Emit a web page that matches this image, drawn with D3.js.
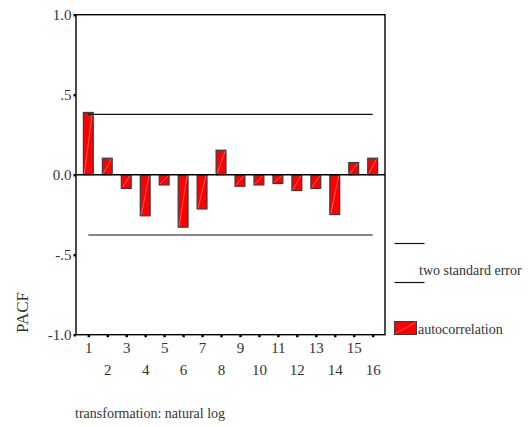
<!DOCTYPE html>
<html>
<head>
<meta charset="utf-8">
<script src="https://cdn.jsdelivr.net/npm/d3@7"></script>
<style>
  html, body { margin: 0; padding: 0; background: #fff; }
  svg { display: block; }
</style>
</head>
<body>
<svg id="chart" width="530" height="427"></svg>
<script>
// Partial autocorrelation by lag
const lags = [1, 2, 3, 4, 5, 6, 7, 8, 9, 10, 11, 12, 13, 14, 15, 16];
const pacf = [0.389, 0.103, -0.086, -0.257, -0.064, -0.328, -0.214, 0.153,
              -0.072, -0.064, -0.055, -0.099, -0.086, -0.249, 0.076, 0.103];
const confLimit = [0.377, -0.377];
const yTickValues = [1.0, 0.5, 0.0, -0.5, -1.0];
const yTickLabels = ["1.0", ".5", "0.0", "-.5", "-1.0"];
const legendLabels = ["two standard error", "autocorrelation"];
const yTitle = "PACF";
const footnote = "transformation: natural log";

const FONT = "'Times New Roman', 'Liberation Serif', 'DejaVu Serif', 'Noto Serif', serif";
const INK = "#333";

const svg = d3.select("#chart")
  .attr("font-family", FONT);

const plot = { left: 76, right: 385, top: 14.7, bottom: 334.7 };

const x = d3.scaleLinear().domain([0.35, 16.65]).range([plot.left, plot.right]);
const y = d3.scaleLinear().domain([-1, 1]).range([plot.bottom, plot.top]);
const step = x(2) - x(1);
const barW = step * 0.52;

// frame
svg.append("rect")
  .attr("x", plot.left).attr("y", plot.top)
  .attr("width", plot.right - plot.left).attr("height", plot.bottom - plot.top)
  .attr("fill", "none").attr("stroke", "#000").attr("stroke-width", 1.4);

// bars
const bars = svg.append("g").selectAll("g").data(lags).join("g");
bars.append("rect")
  .attr("x", (d) => x(d) - barW / 2)
  .attr("y", (d, i) => y(Math.max(0, pacf[i])))
  .attr("width", barW)
  .attr("height", (d, i) => Math.abs(y(pacf[i]) - y(0)))
  .attr("fill", "#ff0000")
  .attr("stroke", "#3a3a3a")
  .attr("stroke-width", 1.2);
// faint diagonal hatch inside each bar
bars.append("line")
  .attr("x1", (d) => x(d) - barW / 2 + 1)
  .attr("x2", (d) => x(d) + barW / 2 - 1)
  .attr("y1", (d, i) => y(Math.min(0, pacf[i])) - 1)
  .attr("y2", (d, i) => y(Math.max(0, pacf[i])) + 1)
  .attr("stroke", "#ff9a9a").attr("stroke-width", 0.6);

// zero line
svg.append("line")
  .attr("x1", plot.left).attr("x2", plot.right)
  .attr("y1", y(0)).attr("y2", y(0))
  .attr("stroke", "#000").attr("stroke-width", 1.4);

// two standard error limits
svg.append("g").selectAll("line").data(confLimit).join("line")
  .attr("x1", x(lags[0])).attr("x2", x(lags[lags.length - 1]))
  .attr("y1", (d) => y(d)).attr("y2", (d) => y(d))
  .attr("stroke", "#111").attr("stroke-width", 1.2);

// y axis
const yAxis = d3.axisLeft(y)
  .tickValues(yTickValues)
  .tickSize(2.5)
  .tickPadding(2)
  .tickFormat((d, i) => yTickLabels[i]);
const gy = svg.append("g").attr("transform", `translate(${plot.left},0)`).call(yAxis)
  .attr("font-family", FONT).attr("font-size", 15);
gy.select(".domain").remove();
gy.selectAll(".tick line").attr("stroke", "#000").attr("stroke-width", 2.5);
gy.selectAll(".tick text").attr("fill", INK);

// x axis: odd lags on first row, even lags on second row
const xAxis = d3.axisBottom(x)
  .tickValues(lags)
  .tickSize(2.5)
  .tickPadding(6)
  .tickFormat(d3.format("d"));
const gx = svg.append("g").attr("transform", `translate(0,${plot.bottom})`).call(xAxis)
  .attr("font-family", FONT).attr("font-size", 15);
gx.select(".domain").remove();
gx.selectAll(".tick line").attr("stroke", "#000").attr("stroke-width", 2.5);
gx.selectAll(".tick text")
  .attr("fill", INK)
  .attr("y", (d) => (d % 2 === 1 ? 8 : 30));

// y title
svg.append("text")
  .attr("transform", `translate(28,333) rotate(-90)`)
  .attr("text-anchor", "start")
  .attr("font-size", 17).attr("fill", INK)
  .text(yTitle);

// legend
const lg = svg.append("g");
[243.5, 282.5].forEach((ly) => {
  lg.append("line")
    .attr("x1", 394.5).attr("x2", 424.5)
    .attr("y1", ly).attr("y2", ly)
    .attr("stroke", "#111").attr("stroke-width", 1.2);
});
lg.append("text").attr("x", 419).attr("y", 275).attr("font-size", 14).attr("fill", INK)
  .text(legendLabels[0]);
lg.append("rect")
  .attr("x", 394.5).attr("y", 321.5).attr("width", 22).attr("height", 13)
  .attr("fill", "#ff0000").attr("stroke", "#3a3a3a").attr("stroke-width", 1);
lg.append("line")
  .attr("x1", 395.5).attr("x2", 415.5).attr("y1", 333.5).attr("y2", 322.5)
  .attr("stroke", "#ff9a9a").attr("stroke-width", 0.6);
lg.append("text").attr("x", 418).attr("y", 334).attr("font-size", 14).attr("fill", INK)
  .text(legendLabels[1]);

// footnote
svg.append("text").attr("x", 75).attr("y", 418).attr("font-size", 14).attr("fill", INK)
  .text(footnote);
</script>
</body>
</html>
